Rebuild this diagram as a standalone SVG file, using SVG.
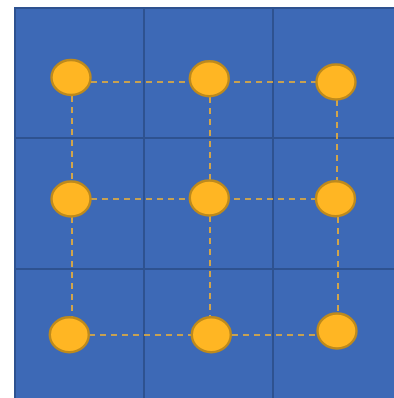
<svg xmlns="http://www.w3.org/2000/svg" width="394" height="398" viewBox="0 0 394 398">
<style>
.grid{fill:none;stroke:#2E5290;stroke-width:2}
.bg{fill:#3D69B6;stroke:#2E5290;stroke-width:2}
.edge{fill:none;stroke:#F5B431;stroke-width:1.6;stroke-dasharray:6 5}
.node{fill:#FFB623;stroke:#BE8A1C;stroke-width:2.4}
</style>
<rect x="0" y="0" width="394" height="398" fill="#ffffff"/>
<g id="grid">
<rect class="bg" x="15" y="8" width="390" height="400"/>
<line class="grid" x1="144" y1="8" x2="144" y2="398"/>
<line class="grid" x1="273" y1="8" x2="273" y2="398"/>
<line class="grid" x1="15" y1="138" x2="394" y2="138"/>
<line class="grid" x1="15" y1="269" x2="394" y2="269"/>
</g>
<g id="connectors">
<line class="edge" x1="91" y1="82" x2="316" y2="82"/>
<line class="edge" x1="91" y1="199" x2="316" y2="199"/>
<line class="edge" x1="89" y1="335" x2="317" y2="335"/>
<line class="edge" x1="72" y1="96" x2="72" y2="181"/>
<line class="edge" x1="72" y1="217" x2="72" y2="317"/>
<line class="edge" x1="210" y1="97" x2="210" y2="180"/>
<line class="edge" x1="210" y1="216" x2="210" y2="317"/>
<line class="edge" x1="337" y1="100" x2="337" y2="181"/>
<line class="edge" x1="338" y1="217" x2="338" y2="313"/>
</g>
<g id="n1"><ellipse class="node" cx="71" cy="77.5" rx="19.5" ry="17.5"/></g>
<g id="n2"><ellipse class="node" cx="209.3" cy="78.7" rx="19.5" ry="17.5"/></g>
<g id="n3"><ellipse class="node" cx="336" cy="82" rx="19.5" ry="17.5"/></g>
<g id="n4"><ellipse class="node" cx="71" cy="199" rx="19.5" ry="17.5"/></g>
<g id="n5"><ellipse class="node" cx="209.3" cy="198" rx="19.5" ry="17.5"/></g>
<g id="n6"><ellipse class="node" cx="335.5" cy="198.7" rx="19.5" ry="17.5"/></g>
<g id="n7"><ellipse class="node" cx="69.3" cy="334.7" rx="19.5" ry="17.5"/></g>
<g id="n8"><ellipse class="node" cx="211.3" cy="334.7" rx="19.5" ry="17.5"/></g>
<g id="n9"><ellipse class="node" cx="337" cy="331" rx="19.5" ry="17.5"/></g>
</svg>
